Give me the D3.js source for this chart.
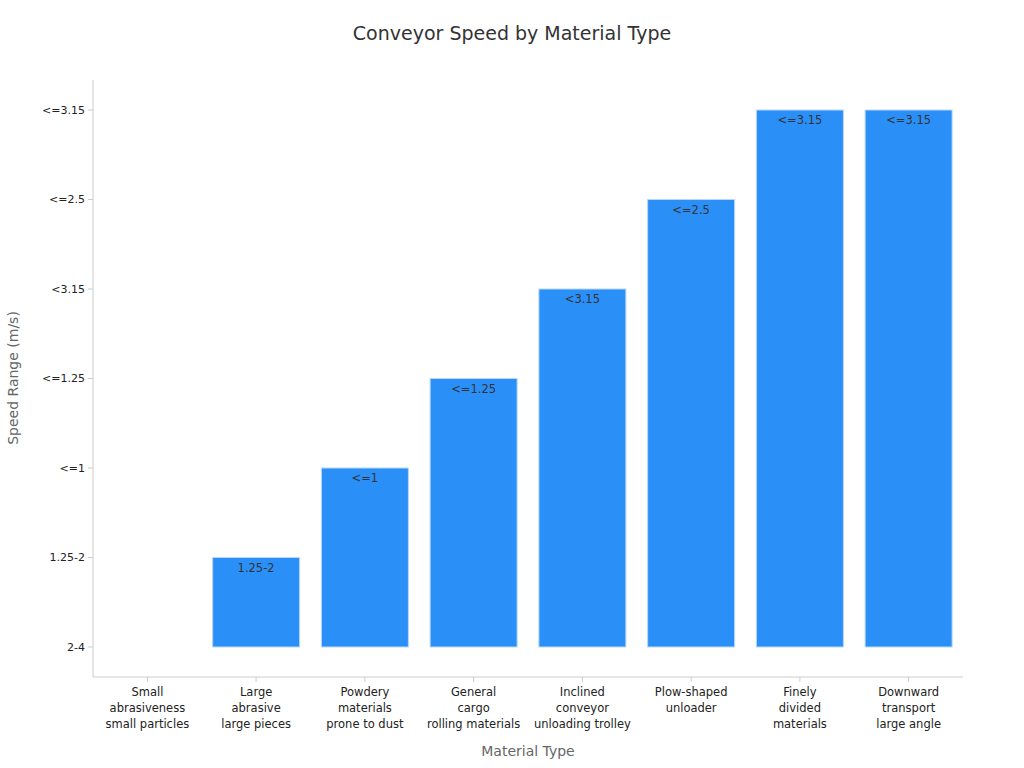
<!DOCTYPE html><html><head><meta charset="utf-8"><script src="https://cdn.jsdelivr.net/npm/d3@7"></script>
<style>body{margin:0;font-family:"DejaVu Sans",sans-serif;background:#fff}</style></head><body><svg id="c" width="1024" height="768"></svg><script>
const categories=[["Small","abrasiveness","small particles"],["Large","abrasive","large pieces"],["Powdery","materials","prone to dust"],["General","cargo","rolling materials"],["Inclined","conveyor","unloading trolley"],["Plow-shaped","unloader"],["Finely","divided","materials"],["Downward","transport","large angle"]];
const speedLevels=["2-4","1.25-2","<=1","<=1.25","<3.15","<=2.5","<=3.15"];
const values=["2-4","1.25-2","<=1","<=1.25","<3.15","<=2.5","<=3.15","<=3.15"];
const svg=d3.select("#c");
const L=93,R=963,T=80,B=677;
const x=d3.scaleBand().domain(d3.range(categories.length)).range([L,R]).paddingInner(0.2).paddingOuter(0.1);
const y=d3.scalePoint().domain(speedLevels).range([647,110]);
svg.append("text").attr("x",512).attr("y",40).attr("text-anchor","middle").attr("font-size",19).attr("fill","#333").text("Conveyor Speed by Material Type");
svg.append("line").attr("x1",L).attr("x2",L).attr("y1",T).attr("y2",B).attr("stroke","#ccc");
svg.append("line").attr("x1",L).attr("x2",R).attr("y1",B).attr("y2",B).attr("stroke","#ccc");
speedLevels.forEach(s=>{const g=svg.append("g");g.append("line").attr("x1",L-5).attr("x2",L).attr("y1",y(s)).attr("y2",y(s)).attr("stroke","#ccc");
g.append("text").attr("x",L-8).attr("y",y(s)).attr("dy","0.35em").attr("text-anchor","end").attr("font-size",11).attr("fill","#222").text(s);});
categories.forEach((c,i)=>{const cx=x(i)+x.bandwidth()/2;svg.append("line").attr("x1",cx).attr("x2",cx).attr("y1",B).attr("y2",B+5).attr("stroke","#ccc");
const t=svg.append("text").attr("x",cx).attr("y",B+19).attr("text-anchor","middle").attr("font-size",11.5).attr("fill","#222");
c.forEach((l,j)=>t.append("tspan").attr("x",cx).attr("dy",j?16:0).text(l));});
values.forEach((v,i)=>{const top=y(v),base=y(speedLevels[0]);if(base-top<=0)return;
svg.append("rect").attr("x",x(i)).attr("width",x.bandwidth()).attr("y",top).attr("height",base-top).attr("fill","#2b8ff8").attr("stroke","#b8d8fb").attr("stroke-width",1);
svg.append("text").attr("x",x(i)+x.bandwidth()/2).attr("y",top+14).attr("text-anchor","middle").attr("font-size",11.5).attr("fill","#333").text(v);});
svg.append("text").attr("x",528).attr("y",756).attr("text-anchor","middle").attr("font-size",14).attr("fill","#666").text("Material Type");
svg.append("text").attr("transform","translate(18,378) rotate(-90)").attr("text-anchor","middle").attr("font-size",14).attr("fill","#666").text("Speed Range (m/s)");
</script></body></html>
